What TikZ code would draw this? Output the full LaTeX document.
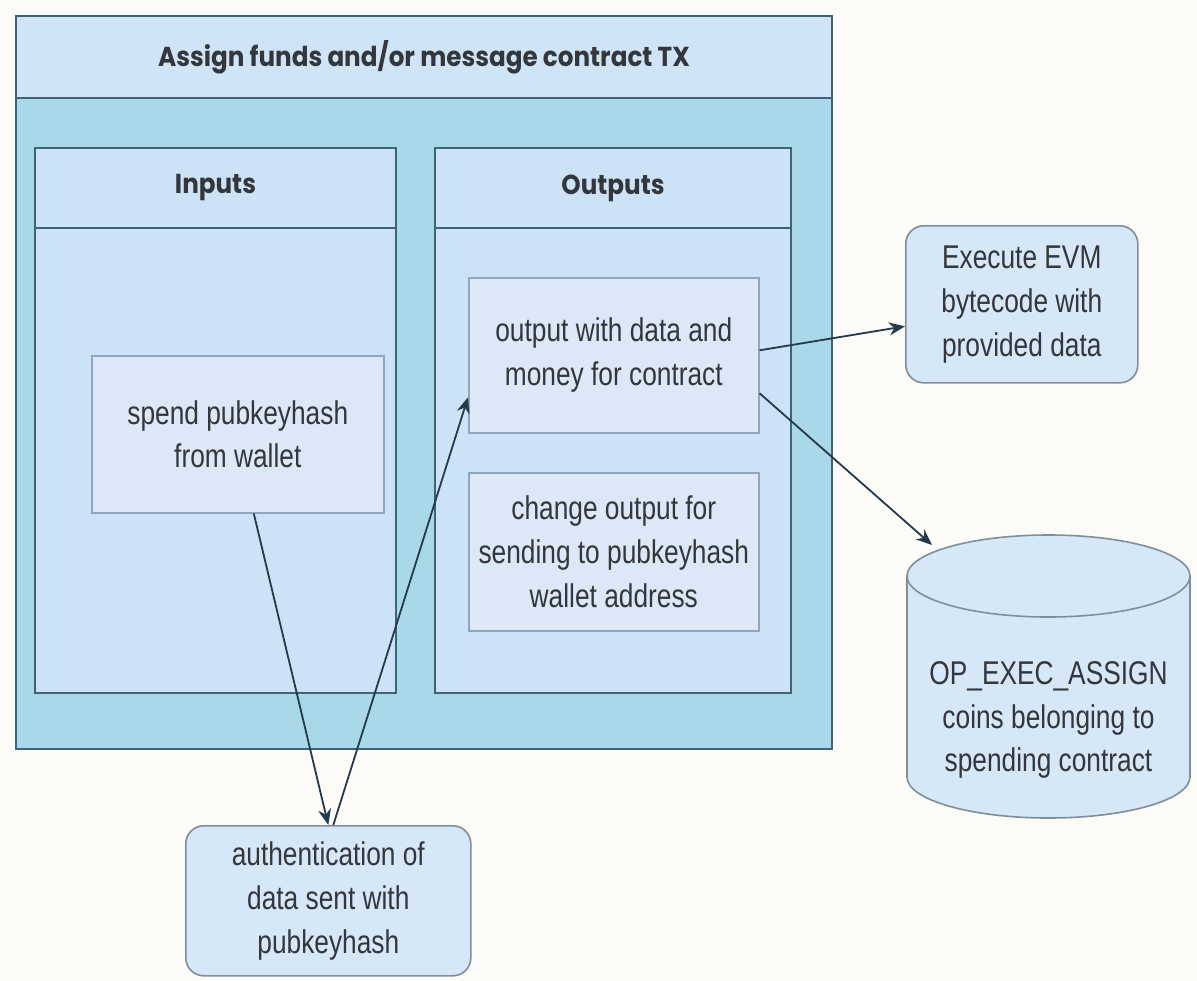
\documentclass[tikz,border=0pt]{standalone}
\usepackage{fontspec}
\setmainfont{Liberation Sans}[FakeStretch=0.8]
\newfontfamily\headfont{Poppins}[FakeStretch=0.9]
\usetikzlibrary{arrows.meta,calc}

\definecolor{pagebg}{HTML}{FDFBF7}
\definecolor{titlefill}{HTML}{CFE4F6}
\definecolor{bodyfill}{HTML}{A9D9E9}
\definecolor{panelfill}{HTML}{CCE2F7}
\definecolor{itemfill}{HTML}{DCE8F8}
\definecolor{itemline}{HTML}{8FA6BC}
\definecolor{frameline}{HTML}{3E6277}
\definecolor{roundfill}{HTML}{D6E7F8}
\definecolor{roundline}{HTML}{7D8E9E}
\definecolor{wire}{HTML}{24394A}
\definecolor{ink}{HTML}{33373B}

\tikzset{
  box/.style={anchor=north west, inner sep=0pt, align=center, text=ink},
  frame/.style={box, draw=frameline, line width=2bp},
  headtext/.style={font=\headfont\bfseries\fontsize{27.5}{32}\selectfont},
  celltext/.style={font=\fontsize{33}{44}\selectfont},
  itembox/.style={box, celltext, fill=itemfill, draw=itemline, line width=1.6bp},
  roundbox/.style={box, celltext, fill=roundfill, draw=roundline, line width=1.6bp, rounded corners=18bp},
  wirearrow/.style={draw=wire, line width=1.8bp, -{Stealth[length=16bp,width=13bp]}},
}

\begin{document}
\begin{tikzpicture}[x=1bp, y=-1bp]
  % page
  \fill[pagebg] (0,0) rectangle (1197,981);
  \useasboundingbox (0,0) rectangle (1197,981);

  % transaction container
  \node[frame, fill=bodyfill, minimum width=816bp, minimum height=733bp] (tx) at (15,15) {};
  \node[frame, headtext, fill=titlefill, minimum width=816bp, minimum height=82bp] (txhead) at (15,15)
    {Assign funds and/or message contract TX};

  % inputs panel
  \node[frame, fill=panelfill, minimum width=361bp, minimum height=545bp] (inputs) at (34,147) {};
  \node[frame, headtext, fill=panelfill, minimum width=361bp, minimum height=80bp] (inhead) at (34,147) {Inputs};

  % outputs panel
  \node[frame, fill=panelfill, minimum width=356bp, minimum height=545bp] (outputs) at (434,147) {};
  \node[frame, headtext, fill=panelfill, minimum width=356bp, minimum height=80bp] (outhead) at (434,147) {Outputs};

  % items
  \node[itembox, minimum width=292bp, minimum height=157bp] (spend) at (91,355)
    {spend pubkeyhash\\from wallet};
  \node[itembox, minimum width=290bp, minimum height=155bp] (out) at (468,277)
    {output with data and\\money for contract};
  \node[itembox, minimum width=290bp, minimum height=158bp] (change) at (468,472)
    {change output for\\sending to pubkeyhash\\wallet address};

  % outside steps
  \node[roundbox, minimum width=232bp, minimum height=157bp] (exec) at (905,225)
    {Execute EVM\\bytecode with\\provided data};
  \node[roundbox, minimum width=285bp, minimum height=150bp] (auth) at (185,825)
    {authentication of\\data sent with\\pubkeyhash};

  % storage cylinder
  \fill[roundfill] (907,576) -- (907,777)
    arc[start angle=180, end angle=360, x radius=141.5bp, y radius=41bp] -- (1190,576) -- cycle;
  \fill[roundfill] (1048.5,576) ellipse[x radius=141.5bp, y radius=41bp];
  \draw[roundline, line width=1.6bp] (907,576) -- (907,777)
    arc[start angle=180, end angle=360, x radius=141.5bp, y radius=41bp] -- (1190,576);
  \draw[roundline, line width=1.6bp] (1048.5,576) ellipse[x radius=141.5bp, y radius=41bp];
  \node[celltext, align=center, text=ink, inner sep=0pt] (db) at (1048.5,720)
    {OP\_EXEC\_ASSIGN\\coins belonging to\\spending contract};
  \coordinate (dbtop) at (932,545);

  % connectors
  \draw[wirearrow] ($(spend.south)+(16,0)$) -- (auth.north);
  \draw[wirearrow] ($(auth.north)+(5,0)$) -- ($(out.west)+(0,42)$);
  \draw[wirearrow] ($(out.east)+(0,-5)$) -- ($(exec.west)+(0,22)$);
  \draw[wirearrow] ($(out.east)+(0,38)$) -- (dbtop);
\end{tikzpicture}
\end{document}
